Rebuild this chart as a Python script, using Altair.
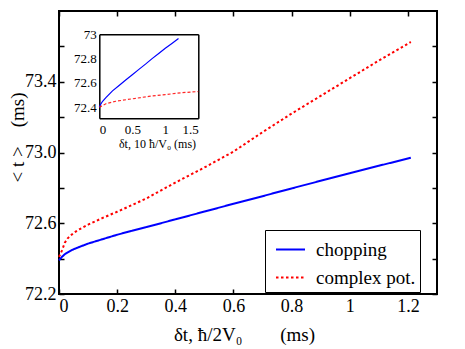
import altair as alt
import pandas as pd

# ---------------- data ----------------
series_names = ["chopping", "complex pot."]

x_main = [0, 0.01, 0.02, 0.03, 0.05, 0.07, 0.1, 0.15, 0.2, 0.25, 0.3, 0.4, 0.5, 0.6,
          0.7, 0.8, 0.9, 1.0, 1.1, 1.21]
chopping = [72.39, 72.41, 72.425, 72.435, 72.453, 72.466, 72.485, 72.51, 72.535, 72.557,
            72.578, 72.622, 72.666, 72.71, 72.753, 72.797, 72.84, 72.883, 72.925, 72.97]
complex_pot = [72.41, 72.445, 72.49, 72.515, 72.545, 72.566, 72.592, 72.63, 72.665, 72.702,
               72.74, 72.83, 72.915, 73.005, 73.115, 73.22, 73.32, 73.42, 73.52, 73.625]

x_inset_chop = [0, 0.02, 0.05, 0.1, 0.2, 0.3, 0.4, 0.5, 0.6, 0.7, 0.8, 0.9, 1.0, 1.1, 1.2]
inset_chop = [72.40, 72.425, 72.45, 72.48, 72.535, 72.58, 72.625, 72.668, 72.712, 72.755,
              72.80, 72.843, 72.885, 72.925, 72.965]
x_inset_cplx = [0, 0.1, 0.25, 0.5, 0.75, 1.0, 1.25, 1.5]
inset_cplx = [72.40, 72.43, 72.45, 72.47, 72.49, 72.505, 72.52, 72.53]

main_x_ticks = [0, 0.2, 0.4, 0.6, 0.8, 1.0, 1.2]
main_y_ticks = [72.2, 72.4, 72.6, 72.8, 73.0, 73.2, 73.4, 73.6]
main_y_labeled = ["72.2", "72.6", "73.0", "73.4"]
inset_x_ticks = [0, 0.5, 1, 1.5]
inset_y_ticks = [72.4, 72.6, 72.8, 73.0]

# ---------------- layout ----------------
W, H = 378, 283
FONT = "Liberation Serif"
BLUE = "#0000ff"
RED = "#ff0000"

main_df = pd.DataFrame({
    "x": x_main + x_main,
    "y": chopping + complex_pot,
    "series": [series_names[0]] * len(x_main) + [series_names[1]] * len(x_main),
})
inset_chop_df = pd.DataFrame({"x": x_inset_chop, "y": inset_chop})
inset_cplx_df = pd.DataFrame({"x": x_inset_cplx, "y": inset_cplx})

xs_main = alt.Scale(domain=[0, 1.3], nice=False, zero=False)
ys_main = alt.Scale(domain=[72.2, 73.8], nice=False, zero=False)

IX0, IX1 = 40.3, 139.3
IY0, IY1 = 23.3, 107.3
xs_in = alt.Scale(domain=[0, 1.5], range=[IX0, IX1], nice=False, zero=False)
ys_in = alt.Scale(domain=[72.31, 73.0], range=[IY1, IY0], nice=False, zero=False)

label_expr_y = ("indexof(" + str(main_y_labeled) + ", format(datum.value, '.1f')) >= 0 "
                "? format(datum.value, '.1f') : ''")

legend_cfg = alt.Legend(
    orient="none", legendX=206, legendY=219, title=None,
    strokeColor="black", padding=4, fillColor="white",
    labelFont=FONT, labelFontSize=19, labelColor="black",
    symbolType="stroke", symbolSize=841, symbolStrokeWidth=2,
    symbolOffset=6, labelOffset=10, rowPadding=2,
    labelExpr="datum.label + '\u00a0'",
)

lines = alt.Chart(main_df).mark_line(strokeWidth=2).encode(
    x=alt.X("x:Q", scale=xs_main, axis=alt.Axis(
        orient="bottom", values=main_x_ticks, format="~g", offset=-5, tickSize=5,
        domain=False, grid=False, labelPadding=3, labelFontSize=18, labelFont=FONT,
        title="δt, ħ/2V₀\u2003\u2003(ms)", titleFont=FONT, titleFontSize=19,
        titleFontWeight="normal", titleX=185, titleY=45, titleAlign="center",
        titleBaseline="middle")),
    y=alt.Y("y:Q", scale=ys_main, axis=alt.Axis(
        orient="left", values=main_y_ticks, labelExpr=label_expr_y, offset=-5, tickSize=5,
        domain=False, grid=False, labelPadding=3, labelFontSize=18, labelFont=FONT,
        title="< t >\u2002\u2002(ms)", titleFont=FONT, titleFontSize=19,
        titleFontWeight="normal", titleX=-47, titleY=126, titleAlign="center",
        titleBaseline="middle", titleAngle=270)),
    color=alt.Color("series:N", scale=alt.Scale(domain=series_names, range=[BLUE, RED]),
                    legend=legend_cfg),
    strokeDash=alt.StrokeDash("series:N",
                              scale=alt.Scale(domain=series_names, range=[[1, 0], [2.5, 2.5]]),
                              legend=legend_cfg),
)

mirror = alt.Chart(main_df).mark_line(opacity=0).encode(
    x=alt.X("x:Q", scale=xs_main, axis=alt.Axis(
        orient="top", values=main_x_ticks, labels=False, offset=-5, tickSize=5,
        domain=False, grid=False, title=None)),
    y=alt.Y("y:Q", scale=ys_main, axis=alt.Axis(
        orient="right", values=main_y_ticks, labels=False, offset=-5, tickSize=5,
        domain=False, grid=False, title=None)),
)

inset_blue = alt.Chart(inset_chop_df).mark_line(color=BLUE, strokeWidth=1.2).encode(
    x=alt.X("x:Q", scale=xs_in, axis=alt.Axis(
        orient="bottom", values=inset_x_ticks, format="~g", offset=-(H - IY1),
        ticks=False, tickSize=0, grid=False, domain=True, domainColor="black",
        domainWidth=1.5, labelPadding=5, labelFontSize=13, labelFont=FONT,
        title="δt, 10 ħ/V₀ (ms)", titleFont=FONT, titleFontSize=12,
        titleFontWeight="normal", titleX=98, titleY=25, titleAlign="center",
        titleBaseline="middle")),
    y=alt.Y("y:Q", scale=ys_in, axis=alt.Axis(
        orient="left", values=inset_y_ticks, format="~g", offset=-IX0,
        ticks=False, tickSize=0, grid=False, domain=True, domainColor="black",
        domainWidth=1.5, labelPadding=3, labelFontSize=13, labelFont=FONT, title=None)),
)

inset_red = alt.Chart(inset_cplx_df).mark_line(color=RED, strokeWidth=1.2,
                                               strokeDash=[3, 2], opacity=0.85).encode(
    x=alt.X("x:Q", scale=xs_in, axis=alt.Axis(
        orient="top", values=inset_x_ticks, labels=False, offset=-IY0,
        ticks=False, tickSize=0, grid=False, domain=True, domainColor="black",
        domainWidth=1.5, title=None)),
    y=alt.Y("y:Q", scale=ys_in, axis=alt.Axis(
        orient="right", values=inset_y_ticks, labels=False, offset=-(W - IX1),
        ticks=False, tickSize=0, grid=False, domain=True, domainColor="black",
        domainWidth=1.5, title=None)),
)

chart = alt.layer(lines, mirror, inset_blue, inset_red).resolve_scale(
    x="independent", y="independent"
).properties(
    width=W, height=H, autosize="none",
    padding={"left": 51, "top": 3, "right": 20, "bottom": 60},
).configure(
    background="white"
).configure_view(
    stroke="black", strokeWidth=2
).configure_axis(
    labelColor="black", titleColor="black", tickColor="black", tickWidth=1.5
)

chart.save("out.html", embed_options={"renderer": "svg", "actions": False})
